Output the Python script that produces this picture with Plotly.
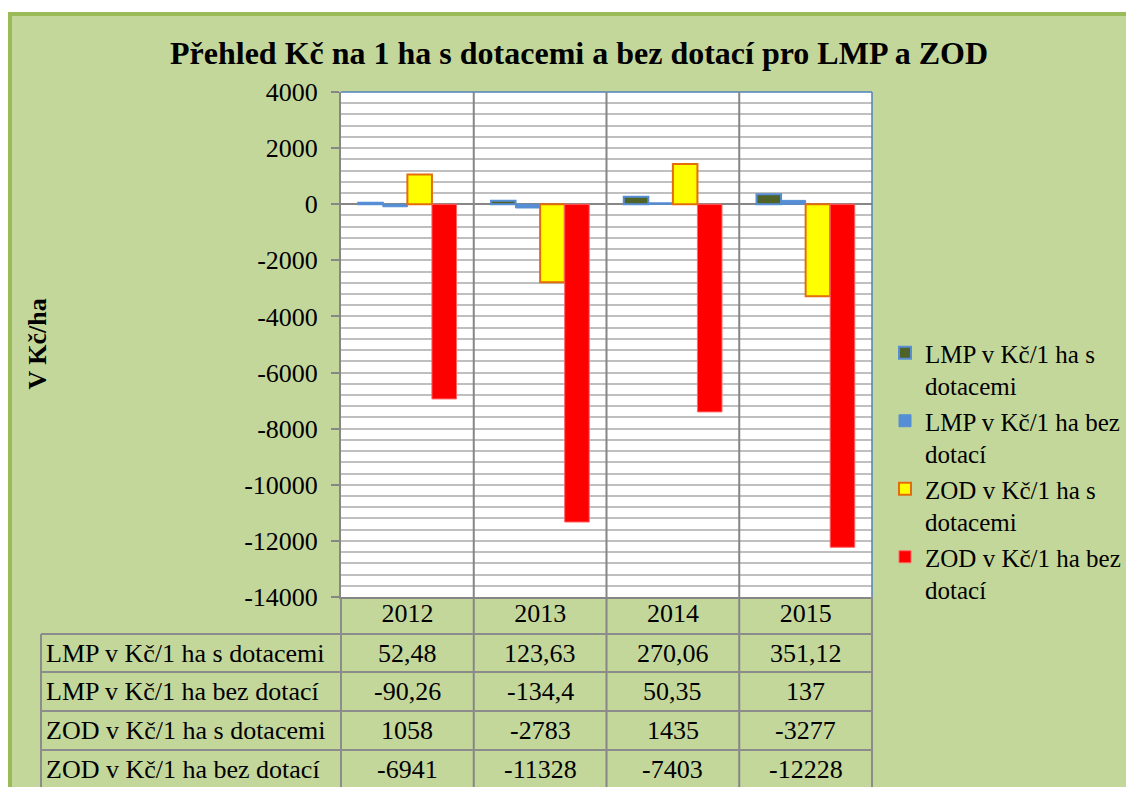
import plotly.graph_objects as go

years = ["2012", "2013", "2014", "2015"]
series_names = [
    "LMP v Kč/1 ha s dotacemi",
    "LMP v Kč/1 ha bez dotací",
    "ZOD v Kč/1 ha s dotacemi",
    "ZOD v Kč/1 ha bez dotací",
]
legend_names = [
    "LMP v Kč/1 ha s<br>dotacemi",
    "LMP v Kč/1 ha bez<br>dotací",
    "ZOD v Kč/1 ha s<br>dotacemi",
    "ZOD v Kč/1 ha bez<br>dotací",
]
lmp_s = [52.48, 123.63, 270.06, 351.12]
lmp_bez = [-90.26, -134.4, 50.35, 137]
zod_s = [1058, -2783, 1435, -3277]
zod_bez = [-6941, -11328, -7403, -12228]
values = [lmp_s, lmp_bez, zod_s, zod_bez]
y_ticks = [-14000, -12000, -10000, -8000, -6000, -4000, -2000, 0, 2000, 4000]

fills = ["#4F6228", "#558ED5", "#FFFF00", "#FF0000"]
edges = ["#558ED5", "#558ED5", "#E46C0A", "#FF6666"]
edge_w = [2, 1, 2, 1]

FONT = "Liberation Serif"
OFF = 8  # page body margin
W, H = 1134 - OFF, 787 - OFF
# plot area in screen pixels
SL, SR, ST, SB = 341, 872, 92, 597
L, R, T, B = SL - OFF, SR - OFF, ST - OFF, SB - OFF


def px_x(px):
    return (px - SL) / (SR - SL)


def px_y(py):
    return (SB - py) / (SB - ST)


def fmt(v):
    return f"{v:g}".replace(".", ",")


fig = go.Figure()
for name, lname, vals, fc, ec, ew in zip(series_names, legend_names, values, fills, edges, edge_w):
    fig.add_trace(go.Bar(x=years, y=vals, name=lname,
                         marker=dict(color=fc, line=dict(color=ec, width=ew))))

shapes = []
# outer green frame and white plot area
shapes.append(dict(type="rect", xref="paper", yref="paper", layer="below",
                   x0=px_x(10), x1=px_x(1140), y0=px_y(800), y1=px_y(14),
                   fillcolor="#C4D79B", line=dict(color="#9BBB59", width=4)))
shapes.append(dict(type="rect", xref="paper", yref="paper", layer="below",
                   x0=0, x1=1, y0=0, y1=1, fillcolor="white", line=dict(width=0)))
# blue top / right border of plot area
shapes.append(dict(type="line", xref="paper", yref="paper", x0=0, x1=1, y0=1, y1=1,
                   line=dict(color="#4F81BD", width=1.5)))
shapes.append(dict(type="line", xref="paper", yref="paper", x0=1, x1=1, y0=0, y1=1,
                   line=dict(color="#4F81BD", width=1.5)))
# category separators (plot + table)
for i in range(1, len(years)):
    shapes.append(dict(type="line", xref="paper", yref="paper", x0=i / len(years), x1=i / len(years),
                       y0=px_y(795), y1=1, line=dict(color="#868686", width=2)))
# table grid
tcol = "#8C8C8C"
for py in [634, 672, 711, 750]:
    shapes.append(dict(type="line", xref="paper", yref="paper", x0=px_x(41), x1=1,
                       y0=px_y(py), y1=px_y(py), line=dict(color=tcol, width=2)))
shapes.append(dict(type="line", xref="paper", yref="paper", x0=px_x(41), x1=px_x(41),
                   y0=px_y(795), y1=px_y(634), line=dict(color=tcol, width=2)))
for xx in [0, 1]:
    shapes.append(dict(type="line", xref="paper", yref="paper", x0=xx, x1=xx,
                       y0=px_y(795), y1=0, line=dict(color=tcol, width=2)))

annotations = []
row_centers = [653, 691.5, 730.5, 769]
for name, vals, py in zip(series_names, values, row_centers):
    annotations.append(dict(text=name, xref="paper", yref="paper", x=px_x(44), y=px_y(py),
                            xanchor="left", yanchor="middle", showarrow=False,
                            font=dict(family=FONT, size=26, color="black")))
    for j, v in enumerate(vals):
        annotations.append(dict(text=fmt(v), xref="x", yref="paper", x=j, y=px_y(py),
                                xanchor="center", yanchor="middle", showarrow=False,
                                font=dict(family=FONT, size=26, color="black")))
annotations.append(dict(text="<b>V Kč/ha</b>", xref="paper", yref="paper", x=px_x(37), y=0.5,
                        textangle=-90, xanchor="center", yanchor="middle", showarrow=False,
                        font=dict(family=FONT, size=26, color="black")))

fig.update_layout(
    width=W, height=H,
    margin=dict(l=L, r=W - R, t=T, b=H - B, autoexpand=False),
    paper_bgcolor="white",
    plot_bgcolor="rgba(0,0,0,0)",
    font=dict(family=FONT, size=26, color="black"),
    title=dict(text="<b>Přehled Kč na 1 ha s dotacemi a bez dotací pro LMP a ZOD</b>",
               x=(579 - OFF) / W, xref="container", xanchor="center",
               y=1 - 45 / H, yref="container", yanchor="middle",
               font=dict(family=FONT, size=32, color="black")),
    barmode="group", bargap=0.26, bargroupgap=0,
    showlegend=True,
    legend=dict(x=px_x(885), y=px_y(330), xanchor="left", yanchor="top", valign="top",
                bgcolor="rgba(0,0,0,0)", font=dict(family=FONT, size=25, color="black"),
                tracegroupgap=0),
    xaxis=dict(range=[-0.5, 3.5], showgrid=False, showline=True, linecolor="#868686", linewidth=2,
               ticks="", ticklabelstandoff=-8, tickfont=dict(family=FONT, size=26), fixedrange=True),
    yaxis=dict(range=[-14000, 4000], tickvals=y_ticks, ticktext=[str(v) for v in y_ticks],
               showgrid=True, gridcolor="#BFBFBF", gridwidth=2,
               minor=dict(dtick=400, showgrid=True, gridcolor="#BFBFBF", gridwidth=2),
               zeroline=True, zerolinecolor="#868686", zerolinewidth=2,
               showline=True, linecolor="#868686", linewidth=2,
               ticks="outside", ticklen=8, tickcolor="#868686", tickwidth=2,
               ticklabelstandoff=8, tickfont=dict(family=FONT, size=26)),
    shapes=shapes,
    annotations=annotations,
)

fig.write_html("out.html")
